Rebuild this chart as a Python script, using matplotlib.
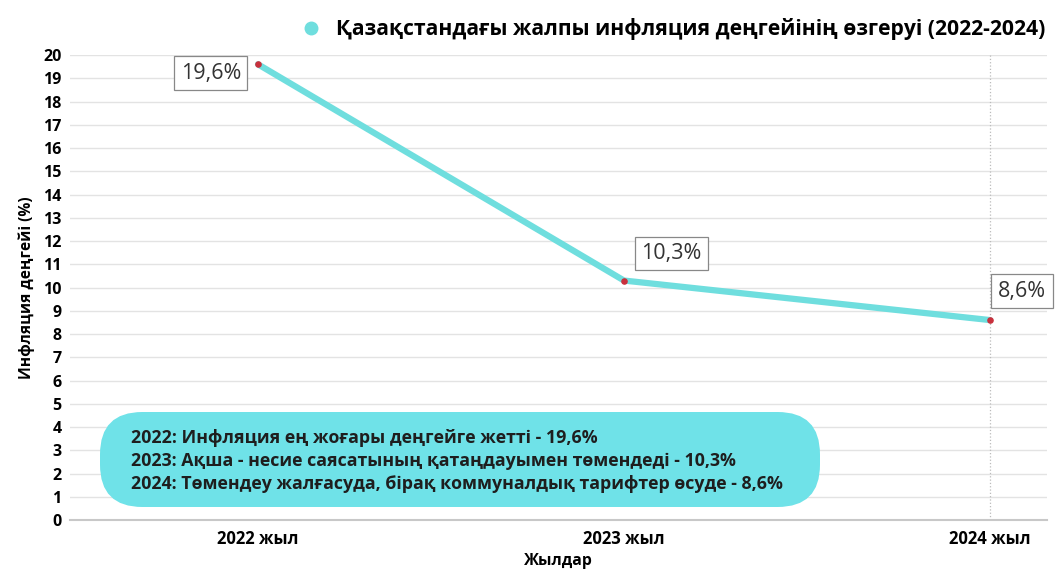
import matplotlib.pyplot as plt
from matplotlib.patches import FancyBboxPatch

# --- DATA ---
years = ['2022 жыл', '2023 жыл', '2024 жыл']
inflation = [19.6, 10.3, 8.6]
point_labels = ['19,6%', '10,3%', '8,6%']
legend_title = 'Қазақстандағы жалпы инфляция деңгейінің өзгеруі (2022-2024)'
notes = [
    '2022: Инфляция ең жоғары деңгейге жетті - 19,6%',
    '2023: Ақша - несие саясатының қатаңдауымен төмендеді - 10,3%',
    '2024: Төмендеу жалғасуда, бірақ коммуналдық тарифтер өсуде - 8,6%',
]

LINE_COLOR = '#6fdede'
POINT_COLOR = '#c9303c'
BOX_COLOR = '#6fe2e8'

plt.rcParams['font.family'] = ['Open Sans', 'DejaVu Sans']

fig = plt.figure(figsize=(10.59, 5.70), dpi=100)
ax = fig.add_axes([0.066, 0.0877, 0.9227, 0.8158])

x = list(range(len(years)))
ax.plot(x, inflation, color=LINE_COLOR, lw=4.5, solid_capstyle='round', zorder=3,
        label=legend_title)
ax.scatter(x, inflation, color=POINT_COLOR, s=14, zorder=4)

ax.set_xlim(-0.514, 2.156)
ax.set_ylim(0, 20)
ax.set_yticks(range(0, 21))
ax.set_xticks(x)
ax.set_xticklabels(years, fontsize=12, fontweight='bold')
for t in ax.get_yticklabels():
    t.set_fontweight('bold')
    t.set_fontsize(11.5)
ax.tick_params(axis='y', length=0, pad=6)
ax.tick_params(axis='x', length=0, pad=7)

ax.grid(axis='y', color='#e3e3e3', lw=1)
ax.set_axisbelow(True)
for s in ['top', 'right', 'left']:
    ax.spines[s].set_visible(False)
ax.spines['bottom'].set_color('#c8c8c8')
ax.spines['bottom'].set_linewidth(1.5)

# hover line at last year
ax.axvline(x[-1], color='#bbbbbb', lw=0.9, ls=':', zorder=1)

ax.set_xlabel('Жылдар', fontsize=11.3, fontweight='bold', labelpad=4)
ax.set_ylabel('Инфляция деңгейі (%)', fontsize=11.2, fontweight='bold', labelpad=6)

# value boxes: offsets in pixels, horizontal alignment
offsets = [(-17, -9, 'right'), (17, 27, 'left'), (8, 29, 'left')]
for xi, yi, lab, (dx, dy, ha) in zip(x, inflation, point_labels, offsets):
    ax.annotate(lab, (xi, yi), xytext=(dx, dy), textcoords='offset pixels',
                fontsize=15.5, color='#333333', va='center', ha=ha,
                bbox=dict(boxstyle='square,pad=0.3', fc='white', ec='#888888', lw=0.9),
                zorder=5, annotation_clip=False)

# notes box
box = FancyBboxPatch((100 / 1059, 63 / 570), 720 / 1059, 95 / 570,
                     boxstyle='round,pad=0,rounding_size=0.04',
                     transform=fig.transFigure, fc=BOX_COLOR, ec='none', zorder=6,
                     mutation_aspect=1059 / 570)
fig.patches.append(box)
for i, line in enumerate(notes):
    fig.text(131 / 1059, 1 - (438 + 23 * i) / 570, line, fontsize=12.8, fontweight='bold',
             color='#1e1e1e', va='center', ha='left', zorder=7)

# legend
fig.legend(handles=[plt.Line2D([], [], marker='o', ls='', color=LINE_COLOR, markersize=9)],
           labels=[legend_title], loc='center right', bbox_to_anchor=(0.995, 0.949),
           frameon=False, handletextpad=0.2, borderaxespad=0,
           prop={'weight': 'bold', 'size': 15.2})

fig.savefig('out.png', dpi=100)
